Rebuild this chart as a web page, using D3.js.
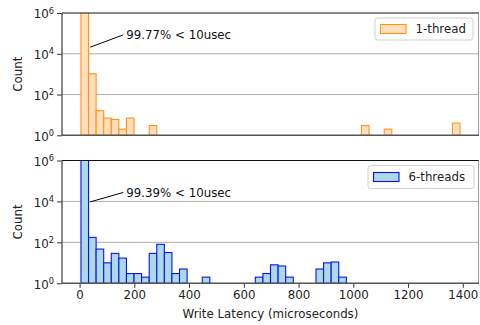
<!DOCTYPE html>
<html>
<head>
<meta charset="utf-8">
<script src="https://cdn.jsdelivr.net/npm/d3@7"></script>
<style>
  body { margin: 0; background: #fff; }
  text { font-family: "DejaVu Sans", sans-serif; }
</style>
</head>
<body>
<div id="chart"></div>
<script>
// histogram bins: 50 bins of equal width between the min and max latency
const binStart = 5;
const binWidth = 27.7;
const binCount = 50;

// counts per bin (0 = empty bin)
const oneThread = [1200000, 1050, 16, 7, 6, 2, 7, 0, 0, 3,
  0, 0, 0, 0, 0, 0, 0, 0, 0, 0,
  0, 0, 0, 0, 0, 0, 0, 0, 0, 0,
  0, 0, 0, 0, 0, 0, 0, 3, 0, 0,
  2, 0, 0, 0, 0, 0, 0, 0, 0, 4];
const sixThreads = [1200000, 175, 47, 10, 29, 17, 3, 3, 2, 29,
  80, 32, 3, 5, 0, 0, 2, 1, 0, 0,
  0, 0, 0, 2, 3, 8, 7, 2, 0, 0,
  1, 5, 10, 11, 2, 0, 0, 0, 0, 0,
  0, 0, 0, 0, 0, 0, 0, 0, 0, 1];

const seriesNames = ['1-thread', '6-threads'];
const annotations = ['99.77% < 10usec', '99.39% < 10usec'];
const xTicks = [0, 200, 400, 600, 800, 1000, 1200, 1400];
const yTicks = [1, 1e2, 1e4, 1e6];
const yTickExp = ['0', '2', '4', '6'];

const width = 480, height = 325;
const left = 62, right = 479;
const panels = [
  { top: 13, bottom: 135.3, data: oneThread, fill: '#ffdfbd', stroke: '#ff9418',
    arrow: [39, 21000], label: [167, 85000],
    legend: { x: 375, y: 18, w: 98, h: 22 } },
  { top: 160.5, bottom: 283.3, data: sixThreads, fill: '#add8e6', stroke: '#0a14f0',
    arrow: [39, 9500], label: [167, 27500],
    legend: { x: 368, y: 165.5, w: 106, h: 23 } }
];

const fontSize = 11.8;

const svg = d3.select('#chart').append('svg')
  .attr('width', width)
  .attr('height', height);

// matplotlib style 5% margin around the data range
const dataLo = binStart, dataHi = binStart + binCount * binWidth;
const pad = (dataHi - dataLo) * 0.05;
const x = d3.scaleLinear()
  .domain([dataLo - pad, dataHi + pad])
  .range([left, right]);

panels.forEach((p, k) => {
  const y = d3.scaleLog().domain([1, 1e6]).range([p.bottom, p.top]);
  const g = svg.append('g');

  // clip bars to the axes area
  const clipId = 'clip' + k;
  svg.append('clipPath').attr('id', clipId)
    .append('rect')
    .attr('x', left).attr('y', p.top)
    .attr('width', right - left).attr('height', p.bottom - p.top + 2);

  // grid lines
  g.selectAll('line.grid')
    .data([1e2, 1e4])
    .enter().append('line')
    .attr('x1', left).attr('x2', right)
    .attr('y1', d => y(d)).attr('y2', d => y(d))
    .attr('stroke', '#b0b0b0').attr('stroke-width', 1);

  // bars
  const bins = p.data.map((c, i) => ({ c: c, x0: binStart + i * binWidth, x1: binStart + (i + 1) * binWidth }))
    .filter(d => d.c > 0);
  g.append('g').attr('clip-path', 'url(#' + clipId + ')')
    .selectAll('rect')
    .data(bins)
    .enter().append('rect')
    .attr('x', d => x(d.x0))
    .attr('width', d => x(d.x1) - x(d.x0))
    .attr('y', d => y(d.c))
    .attr('height', d => p.bottom - y(d.c))
    .attr('fill', p.fill)
    .attr('stroke', p.stroke)
    .attr('stroke-width', 1.1);

  // y axis
  const yAxis = g.append('g')
    .attr('transform', 'translate(' + left + ',0)')
    .call(d3.axisLeft(y).tickValues(yTicks).tickSize(5).tickPadding(3).tickFormat(''));
  yAxis.select('.domain').remove();
  yAxis.selectAll('.tick line').attr('stroke', '#333').attr('stroke-width', 1);
  yAxis.selectAll('.tick text').each(function (d, i) {
    const t = d3.select(this)
      .attr('font-size', fontSize)
      .attr('fill', '#222')
      .attr('dy', '0.4em');
    t.append('tspan').text('10');
    t.append('tspan').text(yTickExp[i])
      .attr('font-size', fontSize * 0.7)
      .attr('dy', '-0.55em');
  });

  // x axis ticks only on the lower panel
  if (k === 1) {
    const xAxis = g.append('g')
      .attr('transform', 'translate(0,' + p.bottom + ')')
      .call(d3.axisBottom(x).tickValues(xTicks).tickSize(4.5).tickPadding(3).tickFormat(d3.format('d')));
    xAxis.select('.domain').remove();
    xAxis.selectAll('.tick line').attr('stroke', '#333');
    xAxis.selectAll('.tick text').attr('font-size', fontSize).attr('fill', '#222');

    svg.append('text')
      .attr('x', (left + right) / 2)
      .attr('y', 318)
      .attr('text-anchor', 'middle')
      .attr('font-size', fontSize)
      .attr('fill', '#222')
      .text('Write Latency (microseconds)');
  }

  // spines
  g.append('line').attr('x1', left).attr('x2', right).attr('y1', p.top).attr('y2', p.top)
    .attr('stroke', '#111').attr('stroke-width', 1);
  g.append('line').attr('x1', right - 0.5).attr('x2', right - 0.5).attr('y1', p.top).attr('y2', p.bottom)
    .attr('stroke', '#999').attr('stroke-width', 1);
  g.append('line').attr('x1', left).attr('x2', left).attr('y1', p.top).attr('y2', p.bottom)
    .attr('stroke', '#555').attr('stroke-width', 1.4);
  g.append('line').attr('x1', left).attr('x2', right).attr('y1', p.bottom).attr('y2', p.bottom)
    .attr('stroke', '#555').attr('stroke-width', 1.6);

  // y label
  svg.append('text')
    .attr('transform', 'translate(22,' + ((p.top + p.bottom) / 2) + ') rotate(-90)')
    .attr('text-anchor', 'middle')
    .attr('font-size', fontSize)
    .attr('fill', '#222')
    .text('Count');

  // annotation
  g.append('line')
    .attr('x1', x(p.arrow[0])).attr('y1', y(p.arrow[1]))
    .attr('x2', x(p.label[0]) - 2).attr('y2', y(p.label[1]))
    .attr('stroke', '#000').attr('stroke-width', 1);
  g.append('text')
    .attr('x', x(p.label[0]) + 1)
    .attr('y', y(p.label[1]))
    .attr('dy', '0.35em')
    .attr('font-size', fontSize)
    .attr('fill', '#111')
    .text(annotations[k]);

  // legend
  const L = p.legend;
  const lg = g.append('g');
  lg.append('rect')
    .attr('x', L.x).attr('y', L.y).attr('width', L.w).attr('height', L.h)
    .attr('rx', 2.5)
    .attr('fill', '#fff').attr('fill-opacity', 0.8)
    .attr('stroke', '#d0d0d0').attr('stroke-width', 1);
  lg.append('rect')
    .attr('x', L.x + 5.5).attr('y', L.y + L.h / 2 - 4.5)
    .attr('width', 25.5).attr('height', 9)
    .attr('fill', p.fill).attr('stroke', p.stroke).attr('stroke-width', 1.1);
  lg.append('text')
    .attr('x', L.x + 40.5).attr('y', L.y + L.h / 2)
    .attr('dy', '0.35em')
    .attr('font-size', fontSize)
    .attr('fill', '#222')
    .text(seriesNames[k]);
});
</script>
</body>
</html>
